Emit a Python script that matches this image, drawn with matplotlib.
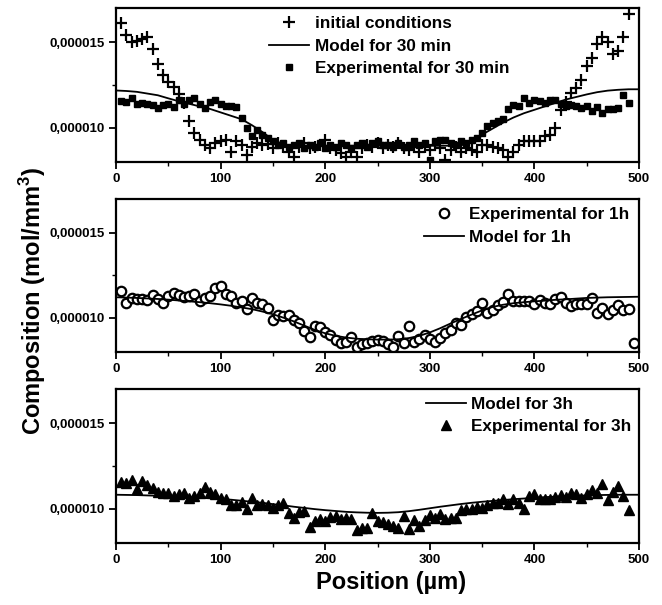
import numpy as np
import matplotlib
matplotlib.use("Agg")
import matplotlib.pyplot as plt
from matplotlib.ticker import MultipleLocator, FuncFormatter

plt.rcParams['font.family'] = ['Liberation Sans', 'DejaVu Sans']
plt.rcParams['font.weight'] = 'bold'
plt.rcParams['mathtext.fontset'] = 'custom'
plt.rcParams['mathtext.rm'] = 'Liberation Sans:bold'
plt.rcParams['mathtext.bf'] = 'Liberation Sans:bold'

SCALE = 1e-6  # values below are in 1e-6 mol/mm3

# --- 30 min panel ---
x_init = np.arange(5, 491, 5)
init_cond = [16.1, 15.4, 15.0, 15.1, 15.2, 15.3, 14.6, 13.75, 13.1, 12.7,
             12.4, 12.0, 11.45, 10.4, 9.7, 9.3, 9.0, 8.8, 9.1, 9.25,
             9.3, 8.6, 9.2, 9.0, 8.4, 8.9, 9.1, 9.0, 9.05, 8.8,
             9.1, 8.9, 8.6, 8.3, 8.9, 9.1, 8.8, 8.9, 9.0, 9.3,
             8.8, 8.7, 8.5, 8.3, 8.6, 8.3, 8.8, 9.0, 8.9, 9.1,
             8.8, 9.0, 8.9, 9.1, 8.8, 8.7, 8.9, 8.6, 8.9, 8.7,
             9.0, 8.8, 8.1, 8.7, 8.9, 8.6, 8.8, 8.7, 8.6, 9.0,
             9.0, 8.9, 8.8, 8.7, 8.3, 8.6, 9.0, 9.2, 9.2, 9.2,
             9.25, 9.5, 9.6, 10.0, 11.06, 11.5, 12.04, 12.3, 12.8, 13.6,
             14.1, 14.9, 15.3, 15.0, 14.3, 14.5, 15.3, 16.65]

x_exp30 = np.arange(5, 491, 5)
exp30 = [11.55, 11.5, 11.75, 11.4, 11.45, 11.4, 11.35, 11.16, 11.35, 11.4,
         11.2, 11.6, 11.4, 11.6, 11.75, 11.4, 11.16, 11.5, 11.6, 11.4,
         11.3, 11.25, 11.2, 10.6, 9.98, 9.5, 9.88, 9.6, 9.4, 9.2,
         9.0, 9.1, 8.9, 9.0, 9.1, 8.8, 9.0, 8.9, 9.1, 8.8,
         9.0, 8.9, 9.1, 9.0, 8.8, 9.0, 9.1, 8.9, 9.1, 9.2,
         9.0, 9.0, 8.9, 9.1, 8.9, 9.0, 9.2, 9.0, 9.1, 8.1,
         9.2, 9.3, 9.3, 9.1, 9.0, 9.2, 9.1, 9.3, 9.4, 9.7,
         10.1, 10.3, 10.4, 10.5, 11.1, 11.35, 11.3, 11.75, 11.45, 11.6,
         11.55, 11.45, 11.6, 11.65, 11.4, 11.3, 11.35, 11.25, 11.16, 11.3,
         11.0, 11.2, 10.86, 11.1, 11.1, 11.15, 11.94, 11.45]

x_model = np.arange(0, 501, 10)
model30 = [12.18, 12.15, 12.1, 12.0, 11.9, 11.72, 11.55, 11.4, 11.25, 11.1,
           10.9, 10.7, 10.5, 10.15, 9.75, 9.3, 9.02, 8.95, 8.95, 8.95,
           8.95, 8.95, 8.95, 8.95, 8.95, 8.95, 8.95, 8.95, 8.95, 8.95,
           8.95, 8.95, 8.95, 8.97, 9.2, 9.6, 9.95, 10.3, 10.6, 10.85,
           11.05, 11.25, 11.45, 11.65, 11.8, 11.95, 12.08, 12.17, 12.22, 12.25,
           12.25]

# --- 1 h panel ---
x_exp1h = np.arange(5, 496, 5)
exp1h = [11.6, 10.86, 11.16, 11.1, 11.12, 11.05, 11.35, 11.1, 10.86, 11.3,
         11.49, 11.35, 11.25, 11.3, 11.41, 11.0, 11.2, 11.3, 11.75, 11.88,
         11.41, 11.3, 10.9, 11.0, 10.51, 11.16, 10.9, 10.8, 10.6, 9.88,
         10.2, 10.1, 10.15, 9.9, 9.7, 9.25, 8.9, 9.53, 9.5, 9.2,
         9.0, 8.7, 8.55, 8.6, 8.9, 8.28, 8.45, 8.55, 8.65, 8.7,
         8.65, 8.5, 8.31, 8.94, 8.55, 9.53, 8.6, 8.75, 9.0, 8.75,
         8.6, 8.8, 9.1, 9.3, 9.72, 9.6, 10.08, 10.25, 10.43, 10.86,
         10.3, 10.45, 10.76, 10.96, 11.41, 11.0, 11.0, 11.0, 10.98, 10.85,
         11.06, 10.9, 10.85, 11.1, 11.22, 10.9, 10.7, 10.85, 10.85, 10.82,
         11.2, 10.31, 10.6, 10.25, 10.45, 10.76, 10.5, 10.51, 8.55]

model1h = [11.22, 11.2, 11.18, 11.15, 11.12, 11.08, 11.03, 10.98, 10.93, 10.87,
           10.8, 10.72, 10.62, 10.52, 10.38, 10.22, 10.02, 9.8, 9.55, 9.3,
           9.1, 8.95, 8.85, 8.78, 8.75, 8.73, 8.73, 8.75, 8.82, 8.95,
           9.15, 9.4, 9.68, 9.95, 10.2, 10.45, 10.65, 10.78, 10.87, 10.93,
           10.98, 11.02, 11.07, 11.1, 11.14, 11.18, 11.2, 11.22, 11.23, 11.24,
           11.25]

# --- 3 h panel ---
x_exp3h = np.arange(5, 491, 5)
exp3h = [11.55, 11.5, 11.7, 11.15, 11.6, 11.4, 11.2, 11.0, 10.9, 10.95,
         10.72, 10.85, 10.9, 10.63, 10.75, 10.9, 11.27, 11.0, 10.85, 10.65,
         10.55, 10.23, 10.25, 10.4, 9.98, 10.63, 10.25, 10.3, 10.2, 10.05,
         10.2, 10.35, 9.78, 9.45, 9.8, 9.85, 8.96, 9.3, 9.4, 9.3,
         9.5, 9.6, 9.4, 9.45, 9.4, 8.76, 8.86, 8.86, 9.78, 9.3,
         9.2, 9.1, 9.0, 8.86, 9.55, 8.8, 9.35, 9.0, 9.35, 9.65,
         9.45, 9.7, 9.4, 9.45, 9.45, 9.9, 10.0, 10.0, 10.1, 10.05,
         10.25, 10.35, 10.35, 10.57, 10.3, 10.57, 10.35, 9.98, 10.72, 10.88,
         10.6, 10.55, 10.6, 10.7, 10.8, 10.7, 10.9, 10.85, 10.65, 10.85,
         11.08, 10.9, 11.47, 10.53, 11.0, 11.31, 10.72, 9.9]

model3h = [10.82, 10.81, 10.8, 10.78, 10.76, 10.73, 10.7, 10.67, 10.64, 10.61,
           10.57, 10.53, 10.47, 10.41, 10.35, 10.27, 10.2, 10.12, 10.05, 9.98,
           9.92, 9.87, 9.82, 9.79, 9.77, 9.76, 9.77, 9.8, 9.86, 9.94,
           10.03, 10.12, 10.2, 10.28, 10.35, 10.41, 10.46, 10.51, 10.56, 10.6,
           10.64, 10.68, 10.71, 10.74, 10.76, 10.78, 10.8, 10.81, 10.82, 10.82,
           10.82]

W, H = 662, 605
fig = plt.figure(figsize=(W / 100, H / 100), dpi=100)


def make_ax(top_px, bot_px):
    left, right = 116, 639
    ax = fig.add_axes([left / W, 1 - bot_px / H, (right - left) / W, (bot_px - top_px) / H])
    ax.set_xlim(0, 500)
    ax.set_ylim(8e-6, 1.7e-5)
    ax.xaxis.set_major_locator(MultipleLocator(100))
    ax.xaxis.set_minor_locator(MultipleLocator(50))
    ax.yaxis.set_major_locator(MultipleLocator(5e-6))
    ax.yaxis.set_minor_locator(MultipleLocator(2.5e-6))
    ax.yaxis.set_major_formatter(FuncFormatter(lambda v, p: f"{v:.6f}".replace('.', ',')))
    ax.tick_params(which='major', direction='out', length=5, width=1.3, labelsize=9.5, pad=3)
    ax.tick_params(which='minor', direction='out', length=3, width=1.0)
    for s in ax.spines.values():
        s.set_linewidth(1.6)
    for lab in ax.get_xticklabels() + ax.get_yticklabels():
        lab.set_fontweight('bold')
    return ax


leg_kw = dict(frameon=False, borderpad=0, borderaxespad=0,
              handlelength=2.35, handletextpad=0.3, labelspacing=0.42,
              prop={'weight': 'bold', 'size': 12.3})

# top
ax1 = make_ax(8, 162)
ax1.plot(x_init, np.array(init_cond) * SCALE, '+', color='black', ms=8.5, mew=1.6,
         label='initial conditions')
ax1.plot(x_model, np.array(model30) * SCALE, '-', color='black', lw=1.3,
         label='Model for 30 min')
ax1.plot(x_exp30, np.array(exp30) * SCALE, 's', color='black', ms=4.3,
         label='Experimental for 30 min')
ax1.legend(loc='upper left', bbox_to_anchor=(0.293, 0.945), **leg_kw)

# middle
ax2 = make_ax(199, 352)
ax2.plot(x_exp1h, np.array(exp1h) * SCALE, 'o', mfc='white', mec='black', mew=1.6,
         ms=6.8, label='Experimental for 1h')
ax2.plot(x_model, np.array(model1h) * SCALE, '-', color='black', lw=1.3,
         label='Model for 1h')
ax2.legend(loc='upper left', bbox_to_anchor=(0.589, 0.945), **leg_kw)

# bottom
ax3 = make_ax(389, 543)
ax3.plot(x_model, np.array(model3h) * SCALE, '-', color='black', lw=1.3,
         label='Model for 3h')
ax3.plot(x_exp3h, np.array(exp3h) * SCALE, '^', color='black', ms=6.8,
         label='Experimental for 3h')
ax3.legend(loc='upper left', bbox_to_anchor=(0.593, 0.95), **leg_kw)

fig.text(391 / W, 1 - 583 / H, 'Position (µm)', ha='center', va='center',
         fontsize=17, fontweight='bold')
fig.text(33 / W, 1 - 301 / H, r'Composition (mol/mm$^{\mathbf{3}}$)', ha='center',
         va='center', rotation=90, fontsize=17, fontweight='bold')

fig.savefig('out.png', dpi=100)
